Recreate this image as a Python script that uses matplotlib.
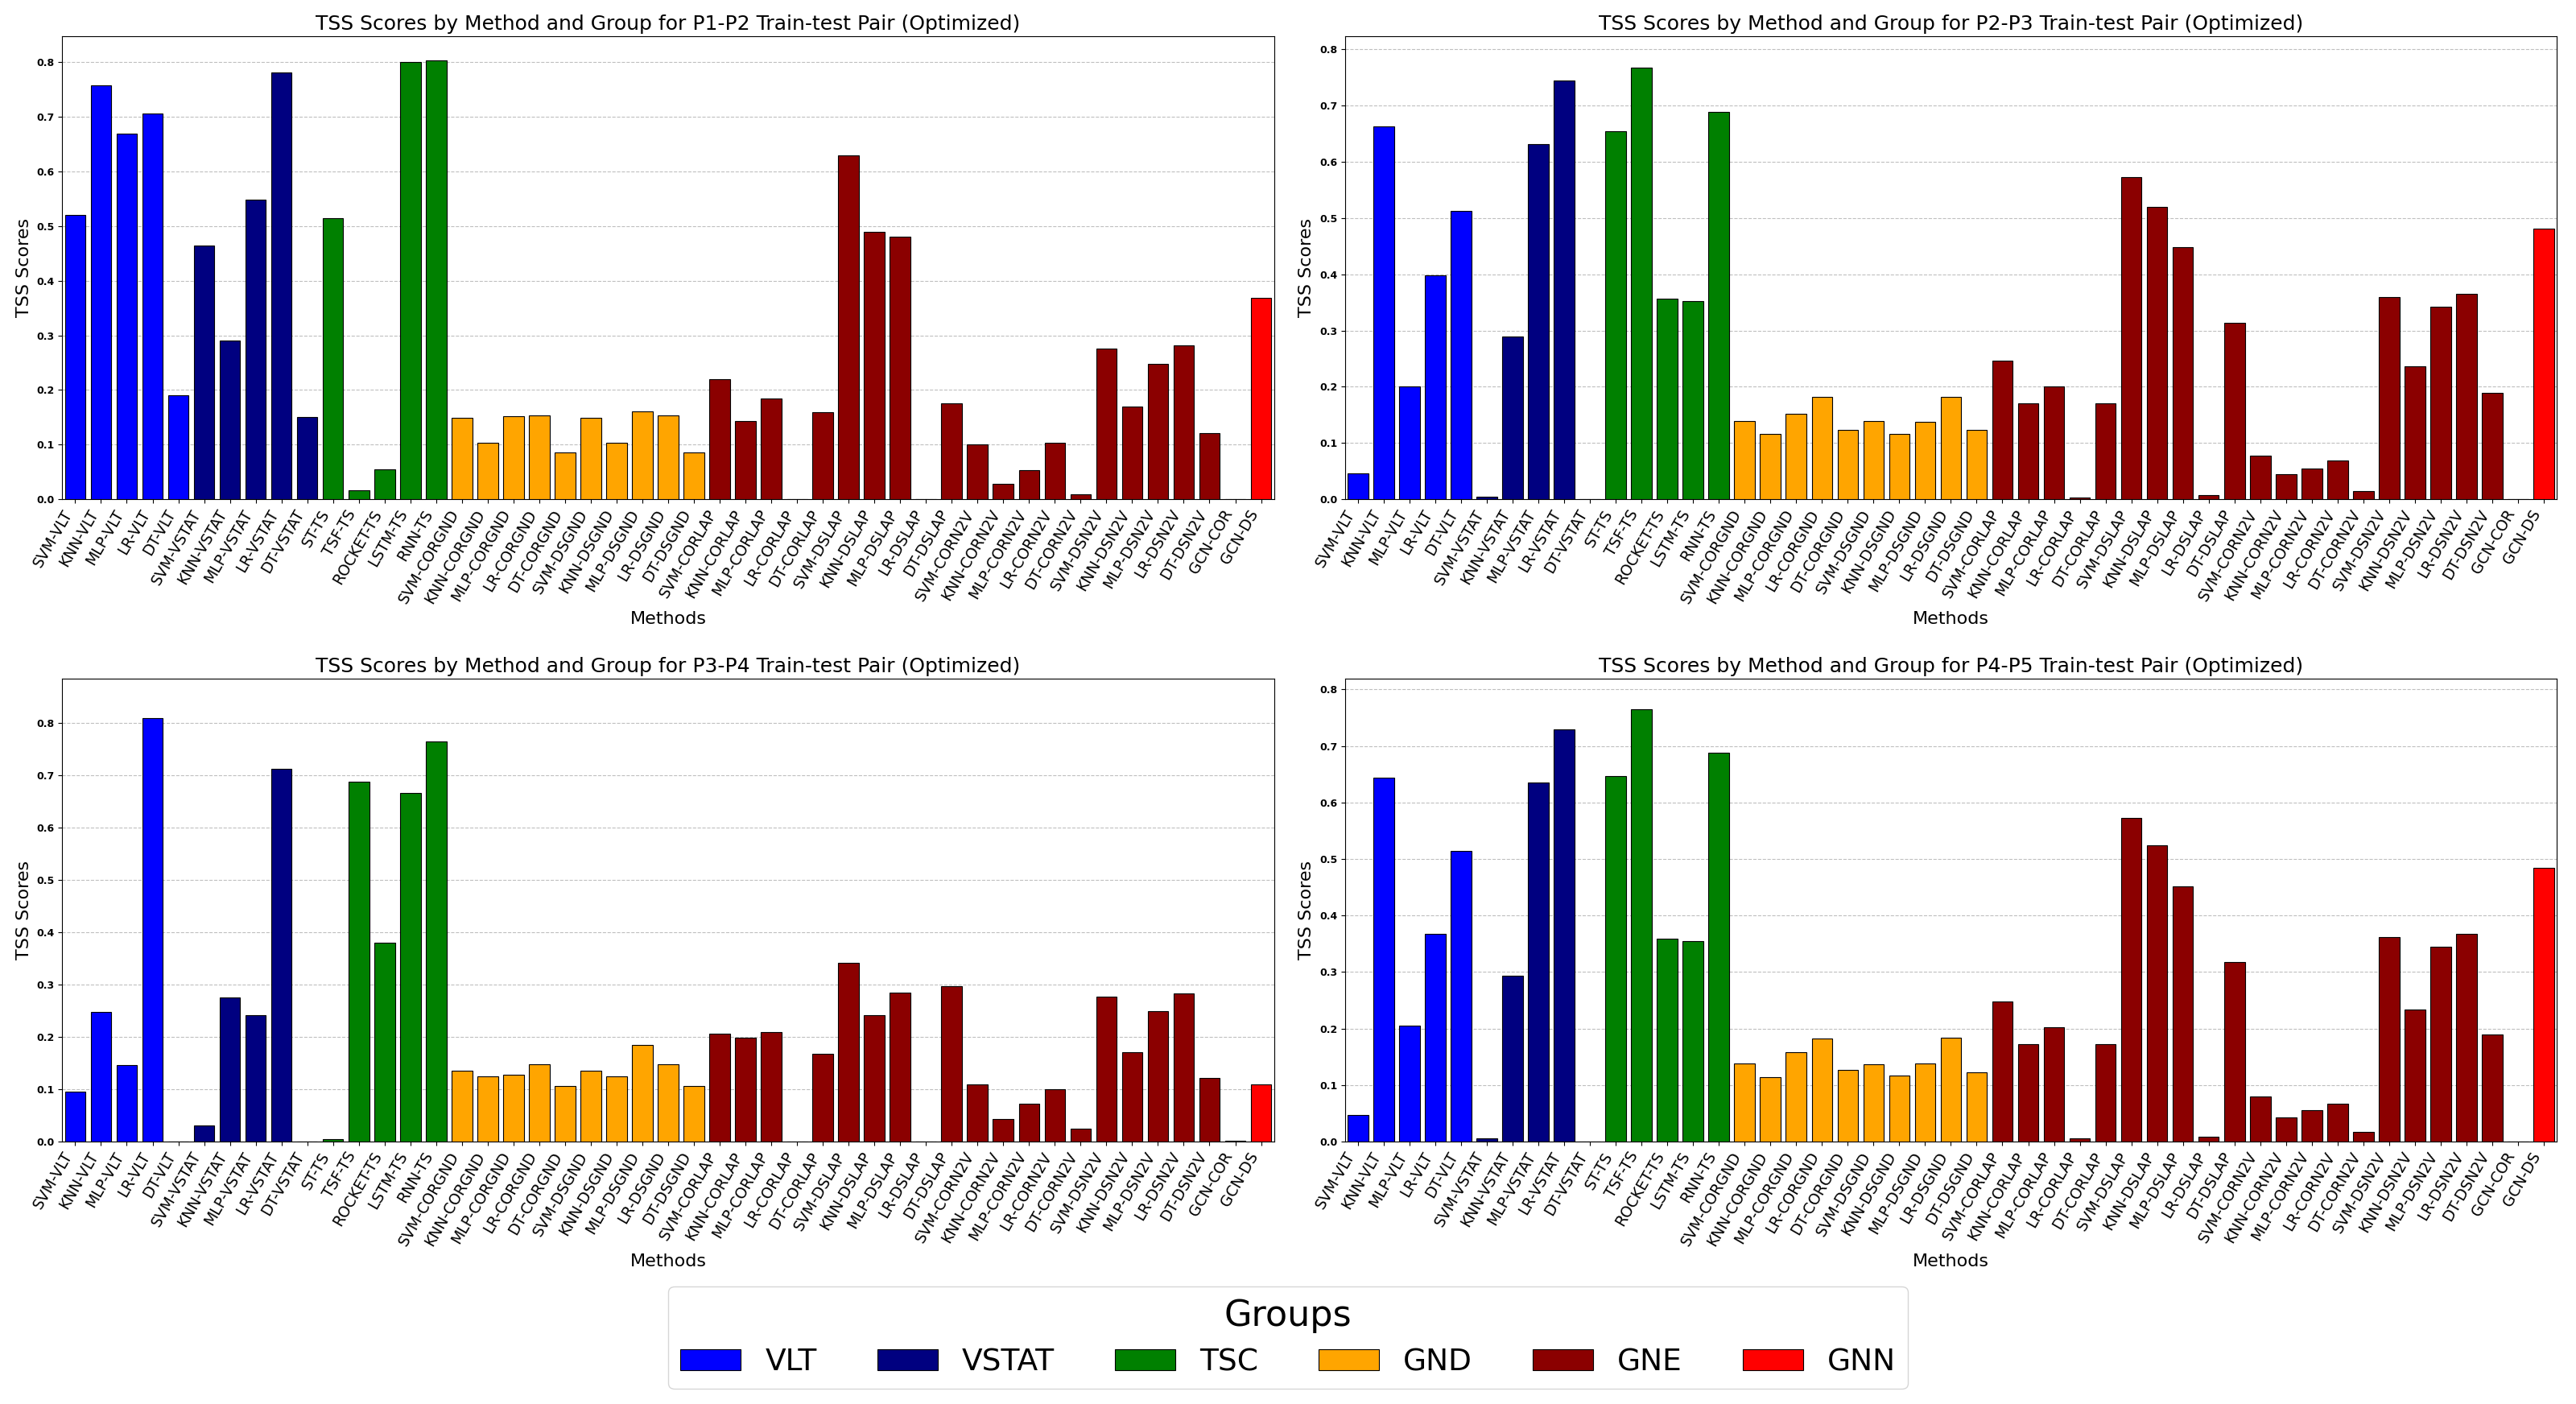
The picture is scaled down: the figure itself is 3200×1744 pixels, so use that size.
import matplotlib
matplotlib.use("Agg")
import matplotlib.pyplot as plt
from matplotlib.patches import Patch

# methods, grouped
methods = [
    "SVM-VLT", "KNN-VLT", "MLP-VLT", "LR-VLT", "DT-VLT",
    "SVM-VSTAT", "KNN-VSTAT", "MLP-VSTAT", "LR-VSTAT", "DT-VSTAT",
    "ST-TS", "TSF-TS", "ROCKET-TS", "LSTM-TS", "RNN-TS",
    "SVM-CORGND", "KNN-CORGND", "MLP-CORGND", "LR-CORGND", "DT-CORGND",
    "SVM-DSGND", "KNN-DSGND", "MLP-DSGND", "LR-DSGND", "DT-DSGND",
    "SVM-CORLAP", "KNN-CORLAP", "MLP-CORLAP", "LR-CORLAP", "DT-CORLAP",
    "SVM-DSLAP", "KNN-DSLAP", "MLP-DSLAP", "LR-DSLAP", "DT-DSLAP",
    "SVM-CORN2V", "KNN-CORN2V", "MLP-CORN2V", "LR-CORN2V", "DT-CORN2V",
    "SVM-DSN2V", "KNN-DSN2V", "MLP-DSN2V", "LR-DSN2V", "DT-DSN2V",
    "GCN-COR", "GCN-DS",
]
method_groups = (["VLT"] * 5 + ["VSTAT"] * 5 + ["TSC"] * 5 + ["GND"] * 10
                 + ["GNE"] * 20 + ["GNN"] * 2)

groups = ["VLT", "VSTAT", "TSC", "GND", "GNE", "GNN"]
group_colors = {"VLT": "blue", "VSTAT": "navy", "TSC": "green",
                "GND": "orange", "GNE": "darkred", "GNN": "red"}

pairs = ["P1-P2", "P2-P3", "P3-P4", "P4-P5"]

tss_p1_p2 = [0.521, 0.757, 0.669, 0.706, 0.190,
             0.465, 0.290, 0.549, 0.781, 0.150,
             0.515, 0.017, 0.054, 0.801, 0.803,
             0.149, 0.103, 0.152, 0.153, 0.085,
             0.149, 0.103, 0.161, 0.153, 0.085,
             0.219, 0.143, 0.185, 0.0, 0.159,
             0.630, 0.489, 0.480, 0.0, 0.176,
             0.100, 0.028, 0.053, 0.103, 0.009,
             0.276, 0.170, 0.248, 0.282, 0.121,
             0.0, 0.369]
tss_p2_p3 = [0.046, 0.663, 0.200, 0.398, 0.513,
             0.004, 0.290, 0.632, 0.745, 0.0,
             0.654, 0.767, 0.356, 0.352, 0.689,
             0.139, 0.116, 0.152, 0.182, 0.123,
             0.139, 0.116, 0.137, 0.182, 0.123,
             0.246, 0.170, 0.200, 0.003, 0.170,
             0.573, 0.520, 0.449, 0.007, 0.314,
             0.077, 0.044, 0.055, 0.069, 0.014,
             0.359, 0.237, 0.343, 0.366, 0.189,
             0.0, 0.481]
tss_p3_p4 = [0.096, 0.247, 0.146, 0.809, 0.0,
             0.031, 0.276, 0.241, 0.712, 0.0,
             0.005, 0.688, 0.380, 0.667, 0.765,
             0.135, 0.125, 0.127, 0.148, 0.106,
             0.135, 0.125, 0.184, 0.148, 0.106,
             0.206, 0.199, 0.209, 0.0, 0.167,
             0.341, 0.241, 0.284, 0.0, 0.297,
             0.109, 0.043, 0.072, 0.100, 0.024,
             0.277, 0.170, 0.249, 0.283, 0.122,
             0.002, 0.109]
tss_p4_p5 = [0.047, 0.644, 0.205, 0.367, 0.514,
             0.006, 0.293, 0.635, 0.729, 0.0,
             0.647, 0.765, 0.359, 0.355, 0.688,
             0.138, 0.114, 0.158, 0.182, 0.126,
             0.137, 0.116, 0.138, 0.184, 0.122,
             0.248, 0.172, 0.202, 0.006, 0.172,
             0.573, 0.524, 0.451, 0.009, 0.318,
             0.079, 0.043, 0.055, 0.067, 0.017,
             0.362, 0.233, 0.344, 0.368, 0.189,
             0.0, 0.484]
all_scores = [tss_p1_p2, tss_p2_p3, tss_p3_p4, tss_p4_p5]
y_tops = [0.847, 0.823, 0.885, 0.819]

fig, axes = plt.subplots(2, 2, figsize=(32, 17.44), dpi=100)
fig.subplots_adjust(left=0.0242, right=0.9925, top=0.974, bottom=0.187,
                    wspace=0.0587, hspace=0.388)

colors = [group_colors[g] for g in method_groups]
x = list(range(len(methods)))

for ax, pair, scores, ytop in zip(axes.flat, pairs, all_scores, y_tops):
    ax.bar(x, scores, width=0.8, color=colors, edgecolor="black", linewidth=0.8, zorder=3)
    ax.set_title(f"TSS Scores by Method and Group for {pair} Train-test Pair (Optimized)",
                 fontsize=18)
    ax.set_xlabel("Methods", fontsize=16)
    ax.set_ylabel("TSS Scores", fontsize=16)
    ax.set_xticks(x)
    ax.set_xticklabels(methods, rotation=60, ha="right", fontsize=13.5)
    ax.set_xlim(-0.5, len(methods) - 0.5)
    ax.set_ylim(0, ytop)
    ax.set_yticks([i / 10 for i in range(9)])
    ax.tick_params(axis="y", labelsize=9)
    for lbl in ax.get_yticklabels():
        lbl.set_fontweight("bold")
    ax.grid(axis="y", linestyle="--", color="gray", alpha=0.5, linewidth=0.8, zorder=0)

handles = [Patch(facecolor=group_colors[g], edgecolor="black", linewidth=0.8, label=g)
           for g in groups]
fig.legend(handles=handles, title="Groups", loc="lower center", ncol=6,
           bbox_to_anchor=(0.5, 0.0), fontsize=27, title_fontsize=32)

fig.savefig("out.png", dpi=100)
